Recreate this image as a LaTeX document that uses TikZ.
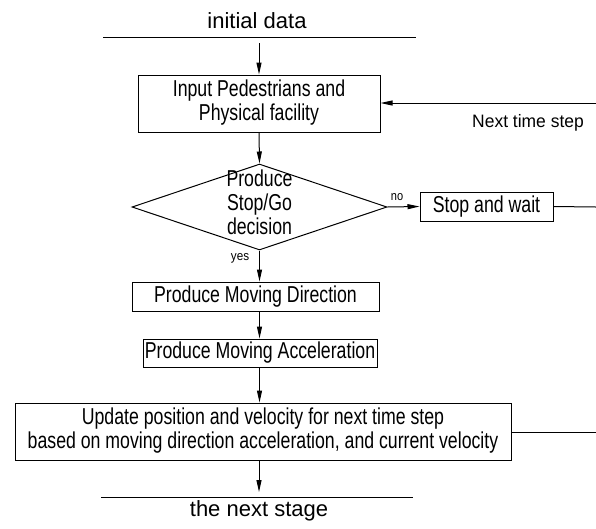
\documentclass[tikz,border=0pt]{standalone}
\usepackage{fontspec}
\setmainfont{Liberation Sans}
\usepackage{graphicx}
\usetikzlibrary{arrows.meta,shapes.geometric}
\newcommand{\cnd}[1]{\scalebox{0.77}[1]{#1}}
\begin{document}
\begin{tikzpicture}[x=1pt,y=-1pt,
  line width=1pt,
  arr/.style={-{Triangle[length=12pt,width=5pt]}},
  box/.style={draw,rectangle,inner sep=0pt,font=\fontsize{23}{23.5}\selectfont},
  big/.style={font=\fontsize{22}{26}\selectfont},
  small/.style={font=\fontsize{13}{15}\selectfont,inner sep=0pt}]
\useasboundingbox (0,0) rectangle (596,528);
% top line and text
\coordinate (tl) at (103,37);
\coordinate (tr) at (416,37);
\draw (tl) -- (tr);
\node[big,anchor=base,inner sep=0pt] (init) at (257,28) {initial data};
\coordinate (a0) at (259,43);
% boxes
\node[box,minimum width=242,minimum height=57] (b1) at (259,103.5)
  {\cnd{\begin{tabular}{@{}c@{}}Input Pedestrians and\\Physical facility\end{tabular}}};
\node[draw,diamond,minimum width=255,minimum height=86,inner sep=0pt,shape aspect=2.97,
  font=\fontsize{23}{24}\selectfont] (d) at (259.5,207)
  {\raisebox{-10pt}{\smash{\cnd{\begin{tabular}{@{}c@{}}Produce\\Stop/Go\\decision\end{tabular}}}}};
\node[box,minimum width=133,minimum height=29] (s) at (486.5,206.5) {\cnd{Stop and wait}};
\node[box,minimum width=247,minimum height=29] (b2) at (255.5,296.5) {\cnd{Produce Moving Direction}};
\node[box,minimum width=234,minimum height=28] (b3) at (260,353) {\cnd{Produce Moving Acceleration}};
\node[box,minimum width=496,minimum height=57,font=\fontsize{23}{22}\selectfont] (b4) at (263,431.5)
  {\cnd{\begin{tabular}{@{}c@{}}Update position and velocity for next time step\\based on moving direction acceleration, and current velocity\end{tabular}}};
% bottom line
\coordinate (bl) at (101,497);
\coordinate (br) at (413,497);
\draw (bl) -- (br);
\coordinate (aend) at (259,492);
\node[big,anchor=base,inner sep=0pt] (next) at (259,516) {the next stage};
% right side
\coordinate (r1) at (596,103);
\coordinate (r2) at (596,207);
\coordinate (r3) at (596,432);
\node[font=\fontsize{18}{20}\selectfont,anchor=base,inner sep=0pt] (nts) at (528,127) {\scalebox{0.97}[1]{Next time step}};
% connectors
\draw[arr] (a0) -- (a0 |- b1.north);
\draw[arr] (b1.south) -- (d.north);
\draw[arr] (d.south) -- (d.south |- b2.north);
\draw[arr] (b2.south -| d.south) -- (d.south |- b3.north);
\draw[arr] (b3.south -| d.south) -- (d.south |- b4.north);
\draw[arr] (b4.south -| aend) -- (aend);
\draw[arr] (r1) -- (r1 -| b1.east);
\draw[arr] (d.east) -- (s.west);
\draw (s.east) -- (r2);
\draw (b4.east |- r3) -- (r3);
\node[small] (no) at (397,197) {\scalebox{0.85}[1]{no}};
\node[small] (yes) at (240,258) {\scalebox{0.9}[1]{yes}};
\end{tikzpicture}
\end{document}
